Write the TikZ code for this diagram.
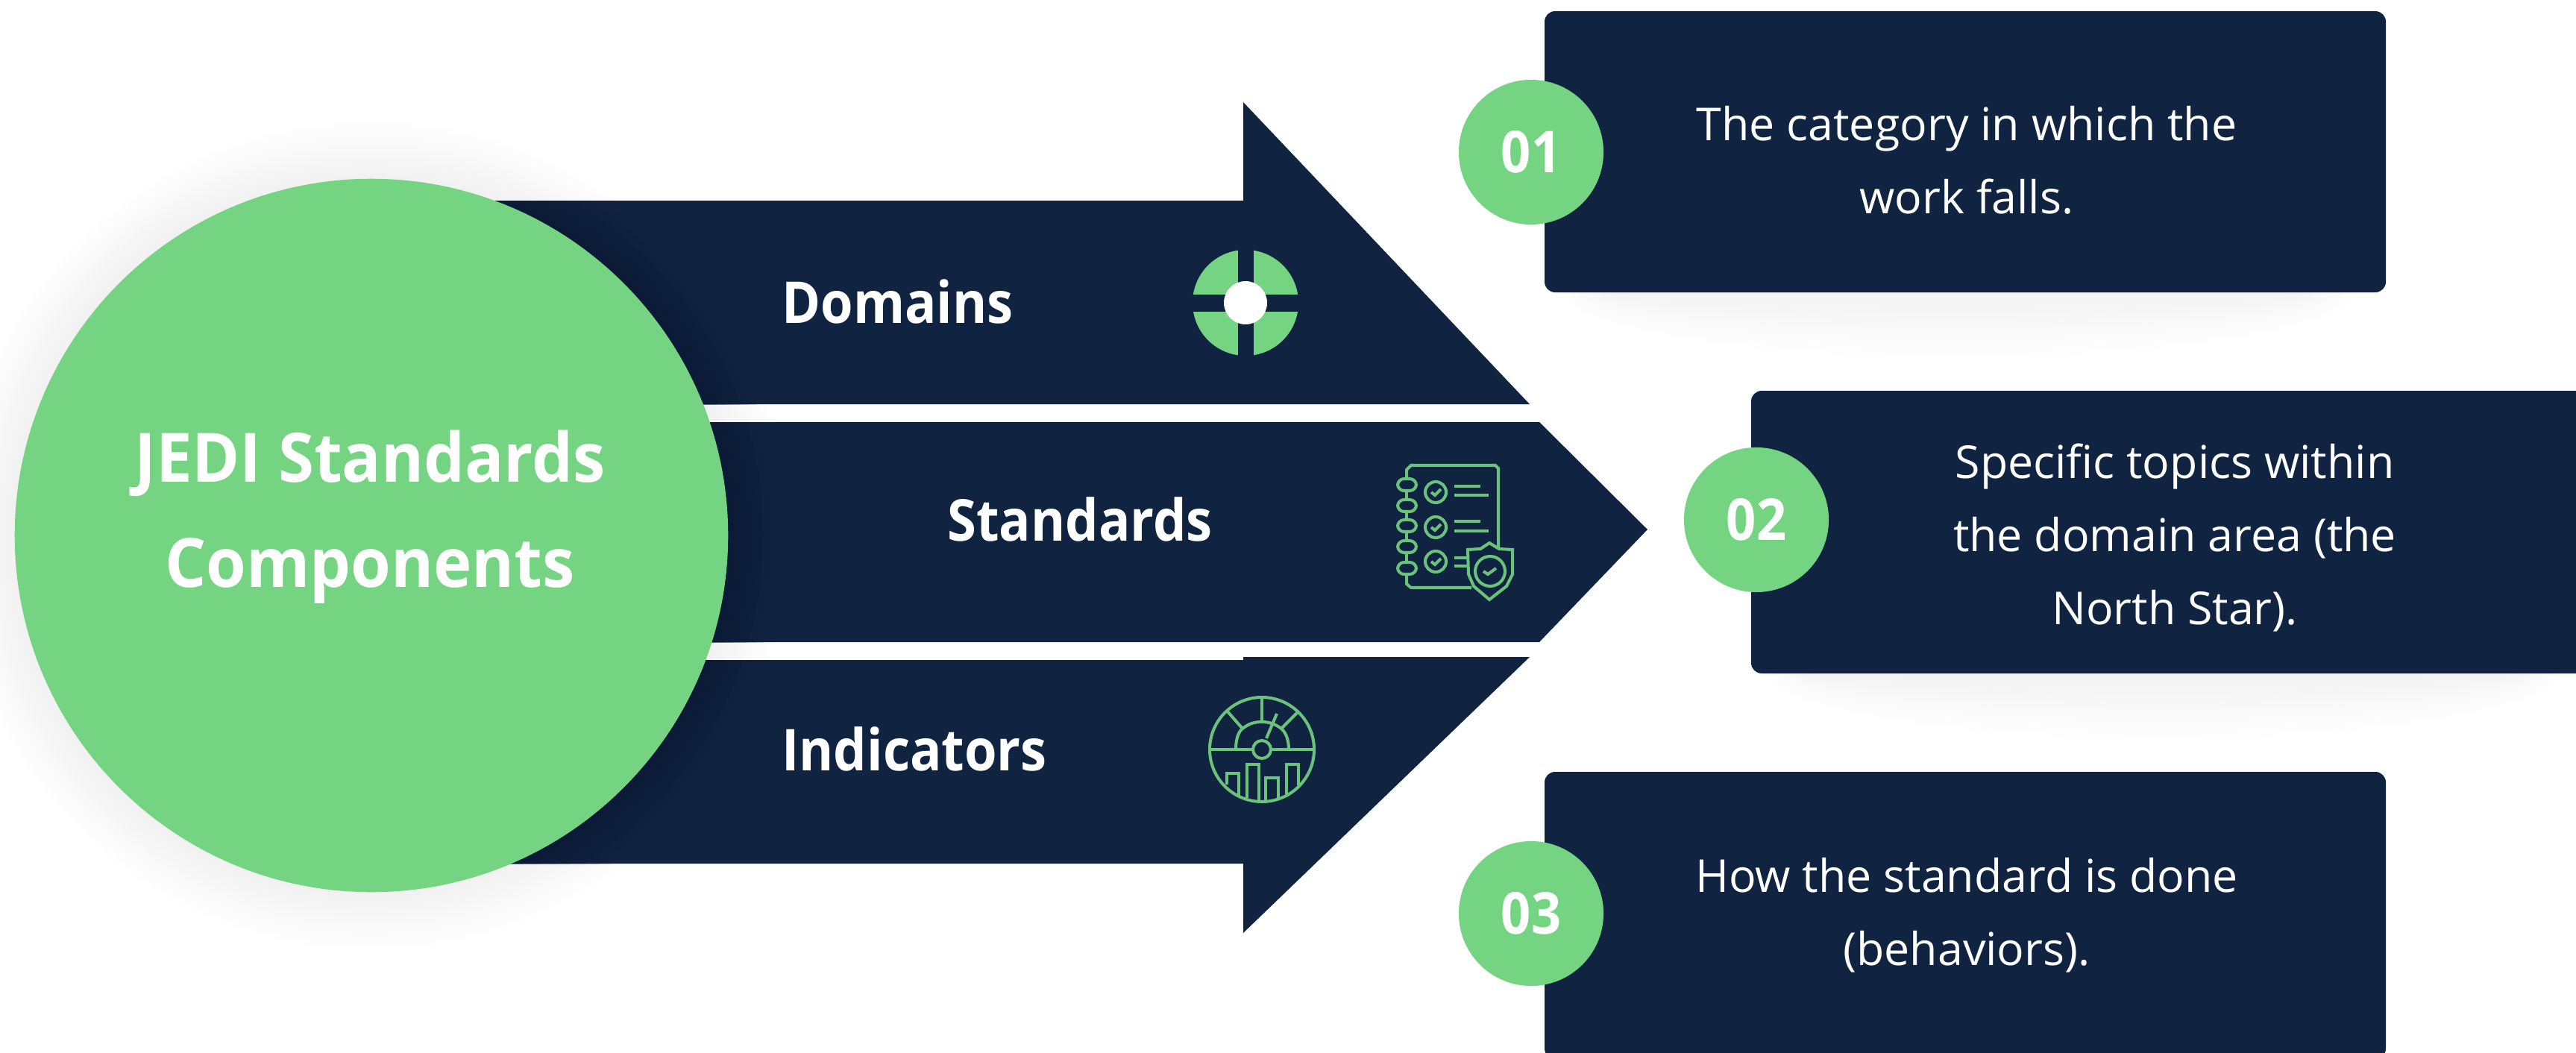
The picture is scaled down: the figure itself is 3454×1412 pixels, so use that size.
\documentclass[tikz,border=0pt]{standalone}
\usepackage{fontspec}
\setmainfont{Open Sans}
\newfontfamily\headfont[FakeStretch=0.91]{Open Sans}
\newfontfamily\hubfont[FakeStretch=0.95]{Open Sans}
\definecolor{navy}{HTML}{102341}
\definecolor{navyd}{HTML}{0B1A36}
\definecolor{mint}{HTML}{75D481}
\tikzset{
 x=0.01cm,y=-0.01cm,
 band/.style={fill=navy,draw=none},
 card/.style={fill=navy,draw=none,rounded corners=4pt},
 badge/.style={circle,fill=mint,minimum size=1.94cm,inner sep=0pt,text=white,font=\fontsize{22}{26}\headfont\bfseries\selectfont},
 cardtext/.style={text=white,align=center,font=\fontsize{17.3}{28}\selectfont},
 bandtext/.style={text=white,font=\fontsize{22}{26}\headfont\bfseries\selectfont,anchor=west},
 icon/.style={draw=mint!90!navy,line width=1.15pt,fill=none},
 softshade/.style={fill=black,opacity=0.003,draw=none},
 cardshade/.style={fill=black,opacity=0.004,draw=none},
}
\begin{document}
\begin{tikzpicture}
\useasboundingbox (0,0) rectangle (3454,1412);
\fill[white] (0,0) rectangle (3454,1412);
% soft shadows
\foreach \r in {480,486,...,558} { \fill[softshade] (498,718) circle (\r); }
\foreach \k in {0,...,11} {
 \fill[cardshade] (2625,392) ellipse ({530-6*\k} and {90-7*\k});
 \fill[cardshade] (2900,903) ellipse ({530-6*\k} and {90-7*\k});
}
% arrows
\path[band] (498,269) -- (1667,269) -- (1667,137) -- (2051,542) -- (498,542) -- cycle;
\path[band] (498,566) -- (2064,566) -- (2209,710) -- (2064,861) -- (498,861) -- cycle;
\path[band] (498,885) -- (1667,885) -- (1667,881) -- (2051,881) -- (1667,1251) -- (1667,1158) -- (498,1158) -- cycle;
% darkened arrow zone near the circle
\begin{scope}
\clip (498,269) rectangle (1667,542) (498,566) rectangle (2064,861) (498,885) rectangle (1667,1158);
\foreach \r/\m in {545/10,535/25,525/40,515/55,505/70,495/85,485/100} { \fill[navyd!\m!navy] (498,718) circle (\r); }
\end{scope}
% circle
\node[circle,fill=mint,minimum size=9.56cm,inner sep=0pt] (hub) at (498,718) {};
\node[text=white,align=center,font=\fontsize{26}{40}\hubfont\bfseries\selectfont] (hubtext) at (496,693) {JEDI Standards\\Components};
% band labels
\node[bandtext] (dom) at (1036,404) {Domains};
\node[bandtext] (std) at (1258,696) {Standards};
\node[bandtext] (ind) at (1036,1004) {Indicators};
% cards
\fill[card] (2071,15) rectangle (3199,392);
\fill[card] (2348,524) rectangle (3470,903);
\fill[card] (2071,1035) rectangle (3199,1420);
\node[cardtext] (t1) at (2637,215) {The category in which the\\work falls.};
\node[cardtext] (t2) at (2916,721) {Specific topics within\\the domain area (the\\North Star).};
\node[cardtext] (t3) at (2637,1227) {How the standard is done\\(behaviors).};
\node[badge] (b1) at (2053,204) {01};
\node[badge] (b2) at (2355,697) {02};
\node[badge] (b3) at (2053,1225) {03};
% icon 1
\begin{scope}
\clip (1670,406) circle (71);
\fill[mint] (1598,335) rectangle (1660,395);
\fill[mint] (1681,335) rectangle (1742,395);
\fill[mint] (1598,418) rectangle (1660,478);
\fill[mint] (1681,418) rectangle (1742,478);
\end{scope}
\fill[white] (1670,406) circle (29);
% icon 2
\begin{scope}[shift={(1840,600)}]
\draw[icon] (46,42) -- (46,30) -- (52,24) -- (165,24) -- (169,28) -- (169,135);
\draw[icon] (46,170) -- (46,183) -- (52,188) -- (133,188);
\foreach \y/\z in {58/70,86/97,113/125,142/153} { \draw[icon] (46,\y) -- (46,\z); }
\foreach \y in {50,78,105,133,162}{
 \draw[icon,rounded corners=2.5pt] (34,\y-8) rectangle (59,\y+8);
}
\foreach \y in {60,107,153}{
 \draw[icon] (85,\y) circle (14);
 \draw[icon] (79,\y) -- (84,\y+4) -- (92,\y-4);
}
\draw[icon] (110,52) -- (145,52); \draw[icon] (110,64) -- (156,64);
\draw[icon] (110,99) -- (145,99); \draw[icon] (110,112) -- (156,112);
\draw[icon] (110,148) -- (128,148); \draw[icon] (110,159) -- (128,159);
\draw[icon,fill=navy] (157,128) -- (170,136) -- (188,137) -- (188,170) -- (180,186) -- (157,204) -- (136,186) -- (129,170) -- (128,137) -- (145,136) -- cycle;
\draw[icon] (158,166) circle (20);
\draw[icon] (149,166) -- (155,170) -- (166,162);
\end{scope}
% icon 3
\begin{scope}[shift={(1590,910)}]
\draw[icon] (102,95) circle (70);
\draw[icon] (33,95) -- (90,95) (114,95) -- (171,95);
\draw[icon] (102,95) circle (12);
\draw[icon] (67,95) .. controls (67,78) and (72,70) .. (76,67) .. controls (85,60) and (92,58) .. (102,58) .. controls (112,58) and (120,61) .. (128,67) .. controls (134,72) and (138,82) .. (138,95);
\draw[icon] (102,26) -- (102,58);
\draw[icon] (55,43) -- (76,67);
\draw[icon] (150,45) -- (128,67);
\draw[icon] (108,80) -- (122,47);
\draw[icon] (55,142) -- (55,127) -- (71,127) -- (71,157);
\draw[icon] (82,160) -- (82,115) -- (98,115) -- (98,163);
\draw[icon] (107,163) -- (107,133) -- (124,133) -- (124,162);
\draw[icon] (135,155) -- (135,115) -- (151,115) -- (151,143);
\end{scope}
\end{tikzpicture}
\end{document}
